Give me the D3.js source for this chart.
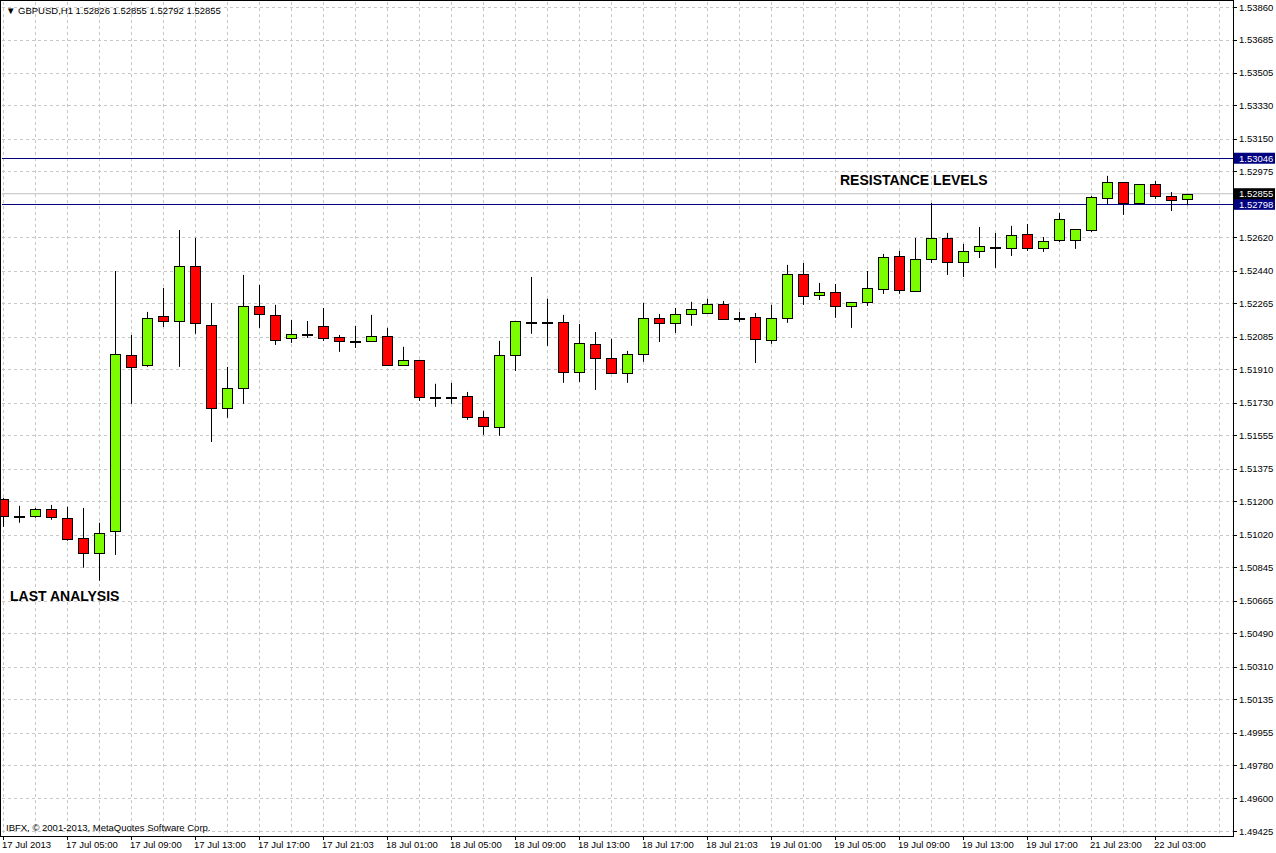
<!DOCTYPE html>
<html>
<head>
<meta charset="utf-8">
<script src="https://cdn.jsdelivr.net/npm/d3@7"></script>
<style>
  body { margin: 0; background: #fff; }
  text { font-family: "Liberation Sans", Arial, sans-serif; }
</style>
</head>
<body>
<svg id="chart" width="1276" height="853"></svg>
<script>
// hourly GBPUSD candles, 17 Jul 2013 -> 22 Jul 2013
var opens = [1.51213,1.51121,1.51121,1.51159,1.51111,1.51003,1.50922,1.51041,1.51988,1.51934,
  1.52197,1.52170,1.52466,1.52149,1.51702,1.51810,1.52251,1.52203,1.52079,1.52101,
  1.52144,1.52084,1.52063,1.52063,1.52090,1.51934,1.51961,1.51762,1.51756,1.51767,
  1.51654,1.51600,1.51988,1.52165,1.52165,1.52165,1.51896,1.52047,1.51971,1.51891,
  1.51993,1.52187,1.52160,1.52208,1.52213,1.52262,1.52187,1.52192,1.52068,1.52187,
  1.52423,1.52310,1.52326,1.52251,1.52273,1.52343,1.52520,1.52332,1.52504,1.52617,
  1.52488,1.52547,1.52569,1.52563,1.52639,1.52563,1.52606,1.52606,1.52660,1.52832,
  1.52918,1.52805,1.52907,1.52843,1.52826];
var highs = [1.51218,1.51175,1.51164,1.51180,1.51170,1.51164,1.51084,1.52439,1.52095,1.52219,
  1.52348,1.52660,1.52617,1.52267,1.51923,1.52418,1.52364,1.52257,1.52176,1.52170,
  1.52240,1.52095,1.52144,1.52203,1.52133,1.52031,1.51961,1.51832,1.51837,1.51788,
  1.51686,1.52063,1.52170,1.52407,1.52289,1.52203,1.52154,1.52111,1.52074,1.52009,
  1.52267,1.52208,1.52240,1.52273,1.52289,1.52278,1.52219,1.52213,1.52257,1.52472,
  1.52482,1.52375,1.52369,1.52273,1.52439,1.52531,1.52547,1.52617,1.52805,1.52644,
  1.52585,1.52676,1.52644,1.52682,1.52692,1.52622,1.52751,1.52665,1.52843,1.52951,
  1.52918,1.52907,1.52924,1.52864,1.52855];
var lows = [1.51062,1.51084,1.51111,1.51100,1.50987,1.50842,1.50772,1.50911,1.51724,1.51923,
  1.52138,1.51923,1.52101,1.51519,1.51649,1.51724,1.52133,1.52041,1.52052,1.52079,
  1.52063,1.52004,1.52025,1.52057,1.51928,1.51934,1.51740,1.51708,1.51724,1.51638,
  1.51557,1.51552,1.51901,1.52101,1.52036,1.51837,1.51842,1.51799,1.51885,1.51837,
  1.51950,1.52057,1.52106,1.52144,1.52208,1.52181,1.52165,1.51944,1.52047,1.52160,
  1.52257,1.52283,1.52187,1.52133,1.52251,1.52316,1.52316,1.52332,1.52482,1.52418,
  1.52407,1.52509,1.52456,1.52520,1.52547,1.52542,1.52595,1.52558,1.52649,1.52800,
  1.52741,1.52794,1.52827,1.52762,1.52792];
var closes = [1.51121,1.51121,1.51159,1.51116,1.50998,1.50922,1.51030,1.51993,1.51923,1.52187,
  1.52170,1.52466,1.52160,1.51702,1.51810,1.52251,1.52208,1.52068,1.52101,1.52101,
  1.52079,1.52063,1.52063,1.52090,1.51934,1.51961,1.51762,1.51756,1.51762,1.51654,
  1.51606,1.51988,1.52170,1.52165,1.52165,1.51896,1.52052,1.51971,1.51891,1.51993,
  1.52187,1.52160,1.52208,1.52235,1.52262,1.52181,1.52187,1.52074,1.52187,1.52423,
  1.52305,1.52326,1.52251,1.52273,1.52348,1.52515,1.52337,1.52504,1.52617,1.52488,
  1.52547,1.52574,1.52569,1.52633,1.52563,1.52601,1.52719,1.52665,1.52838,1.52918,
  1.52805,1.52907,1.52843,1.52821,1.52855];

var priceTicks = [1.53860,1.53685,1.53505,1.53330,1.53150,1.52975,1.52620,1.52440,1.52265,1.52085,
  1.51910,1.51730,1.51555,1.51375,1.51200,1.51020,1.50845,1.50665,1.50490,1.50310,
  1.50135,1.49955,1.49780,1.49600,1.49425];
var timeLabels = ["17 Jul 2013","17 Jul 05:00","17 Jul 09:00","17 Jul 13:00","17 Jul 17:00","17 Jul 21:03",
  "18 Jul 01:00","18 Jul 05:00","18 Jul 09:00","18 Jul 13:00","18 Jul 17:00","18 Jul 21:03",
  "19 Jul 01:00","19 Jul 05:00","19 Jul 09:00","19 Jul 13:00","19 Jul 17:00","21 Jul 23:00","22 Jul 03:00"];
var levels = [1.53046, 1.52798];
var bid = 1.52855;

var svg = d3.select("#chart");
var right = 1233, bottom = 836;
var x = d3.scaleLinear().domain([0, 74]).range([3, 1187]);
var y = d3.scaleLinear().domain([1.49425, 1.53860]).range([831, 7]);

// grid
var g = svg.append("g").attr("stroke", "#c8c8c8").attr("stroke-dasharray", "3,3").attr("shape-rendering", "crispEdges");
g.selectAll(".h").data(priceTicks).enter().append("line")
  .attr("x1", 2).attr("x2", right).attr("y1", d => Math.round(y(d)) + 0.5).attr("y2", d => Math.round(y(d)) + 0.5);
g.selectAll(".v").data(d3.range(0, 77, 2)).enter().append("line")
  .attr("y1", 2).attr("y2", bottom).attr("x1", d => Math.round(x(d)) + 0.5).attr("x2", d => Math.round(x(d)) + 0.5);

// bid line + levels
svg.append("line").attr("x1", 2).attr("x2", right).attr("y1", y(bid)).attr("y2", y(bid)).attr("stroke", "#c0c0c0");
svg.selectAll(".lvl").data(levels).enter().append("line")
  .attr("x1", 2).attr("x2", right).attr("y1", d => Math.round(y(d)) + 0.5).attr("y2", d => Math.round(y(d)) + 0.5)
  .attr("stroke", "#000080");

// candles
var candles = svg.append("g").selectAll("g").data(opens).enter().append("g");
candles.append("line")
  .attr("x1", (d, i) => Math.round(x(i)) + 0.5).attr("x2", (d, i) => Math.round(x(i)) + 0.5)
  .attr("y1", (d, i) => y(highs[i])).attr("y2", (d, i) => y(lows[i]))
  .attr("stroke", "#000");
candles.append("rect")
  .attr("x", (d, i) => Math.round(x(i)) - 5 + 0.5)
  .attr("width", 10)
  .attr("y", (d, i) => Math.round(y(Math.max(d, closes[i]))) + 0.5)
  .attr("height", (d, i) => Math.max(1, Math.round(Math.abs(y(d) - y(closes[i])))))
  .attr("fill", (d, i) => closes[i] > d ? "#7cfc00" : (closes[i] < d ? "#ff0000" : "#000"))
  .attr("stroke", "#000");

// frame
svg.append("rect").attr("x", 0.5).attr("y", 0.5).attr("width", right).attr("height", bottom)
  .attr("fill", "none").attr("stroke", "#000");

// price axis
var pa = svg.append("g");
pa.selectAll("line").data(priceTicks).enter().append("line")
  .attr("x1", right).attr("x2", right + 4).attr("y1", d => Math.round(y(d)) + 0.5).attr("y2", d => Math.round(y(d)) + 0.5)
  .attr("stroke", "#000");
pa.selectAll("text").data(priceTicks).enter().append("text")
  .attr("x", right + 6).attr("y", d => y(d) + 3.5).attr("font-size", 9.5).text(d => d.toFixed(5));

function tag(v, col) {
  svg.append("rect").attr("x", right + 1).attr("y", y(v) - 5.5).attr("width", 41).attr("height", 11).attr("fill", col);
  svg.append("text").attr("x", right + 6).attr("y", y(v) + 3.5).attr("font-size", 9.5).attr("fill", "#fff").text(v.toFixed(5));
}
levels.forEach(v => tag(v, "#000080"));
tag(bid, "#000");

// time axis
var ta = svg.append("g");
ta.selectAll("line").data(timeLabels).enter().append("line")
  .attr("x1", (d, i) => Math.round(x(i * 4)) + 0.5).attr("x2", (d, i) => Math.round(x(i * 4)) + 0.5)
  .attr("y1", bottom).attr("y2", bottom + 4).attr("stroke", "#000");
ta.selectAll("text").data(timeLabels).enter().append("text")
  .attr("x", (d, i) => x(i * 4) - 1).attr("y", 848).attr("font-size", 9.5).text(d => d);

// labels
svg.append("text").attr("x", 6).attr("y", 14).attr("font-size", 9.5)
  .text("\u25BC GBPUSD,H1  1.52826 1.52855 1.52792 1.52855");
svg.append("text").attr("x", 6).attr("y", 831).attr("font-size", 9.5)
  .text("IBFX, \u00A9 2001-2013, MetaQuotes Software Corp.");
svg.append("text").attr("x", 10).attr("y", 601).attr("font-size", 14).attr("font-weight", "bold").text("LAST ANALYSIS");
svg.append("text").attr("x", 840).attr("y", 185).attr("font-size", 14).attr("font-weight", "bold").text("RESISTANCE LEVELS");
</script>
</body>
</html>
